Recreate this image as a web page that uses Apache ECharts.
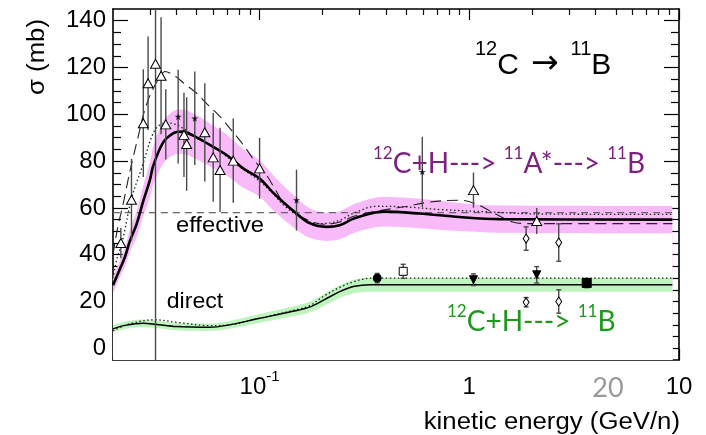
<!DOCTYPE html>
<html>
<head>
<meta charset="utf-8">
<script src="https://cdn.jsdelivr.net/npm/echarts@6/dist/echarts.min.js"></script>
<style>
  html, body { margin: 0; padding: 0; background: #fff; }
  #chart { width: 706px; height: 435px; }
</style>
</head>
<body>
<div id="chart"></div>
<script>
// ---- axis ranges and ticks ----
const xMin = 0.02, xMax = 10;
const yMin = -5, yMax = 145;
const xMajorTicks = [0.1, 1, 10];
const xMajorLabels = ['10^-1', '1', '10'];
const xMinorTicks = [0.03, 0.04, 0.05, 0.06, 0.07, 0.08, 0.09,
                     0.2, 0.3, 0.4, 0.5, 0.6, 0.7, 0.8, 0.9,
                     2, 3, 4, 5, 6, 7, 8, 9];
const yMajorTicks = [0, 20, 40, 60, 80, 100, 120, 140];
const yMinorTicks = [5, 10, 15, 25, 30, 35, 45, 50, 55, 65, 70, 75, 85, 90, 95,
                     105, 110, 115, 125, 130, 135];

// ---- effective cross section (12C+H -> 11A* -> 11B), mb ----
const effE    = [0.02, 0.0216, 0.0228, 0.0241, 0.0259, 0.0279, 0.03, 0.0311, 0.0347, 0.0387,
                 0.0425, 0.0483, 0.0579, 0.0696, 0.0835, 0.1, 0.116, 0.129, 0.15, 0.173,
                 0.208, 0.241, 0.279, 0.335, 0.387, 0.579, 0.898, 1.39, 9.3];
const effMid  = [27, 34, 39, 46, 53, 63, 72, 78, 88, 91.9,
                 92.6, 90.9, 86.9, 82.6, 76.9, 72.6, 66.5, 62.6, 57.6, 53.5,
                 51.9, 52.6, 55.3, 57.5, 58.4, 57.6, 56.1, 55.2, 55];
const effHalf = [3.5, 3.5, 4, 4.8, 5.5, 6.5, 7.5, 8, 9, 9.4,
                 9.5, 9.5, 9.2, 8.8, 8.3, 7.8, 7.5, 7.2, 6.8, 6.3,
                 6, 6, 6.1, 6.3, 6.4, 6.3, 6, 5.8, 5.8];

// dotted model, effective
const effDotE = [0.02, 0.0208, 0.0224, 0.0245, 0.0274, 0.0311, 0.0335, 0.0374, 0.0432, 0.0501,
                 0.0579, 0.0696, 0.0835, 0.1, 0.116, 0.129, 0.15, 0.173, 0.2006, 0.241,
                 0.279, 0.36, 0.501, 0.721, 1.248, 2.16, 9.3];
const effDot  = [30, 37.6, 47.6, 64, 77, 92, 95.5, 96.2, 94, 89.7,
                 87, 82, 76.5, 71.5, 66, 61.5, 57, 54, 53.3, 54.7,
                 57.6, 60.7, 60.4, 59.3, 58.3, 57.4, 57.2];

// long-dashed model, effective
const effDashE = [0.02, 0.0211, 0.0224, 0.0236, 0.025, 0.0263, 0.0279, 0.0294, 0.0311, 0.0335,
                  0.0354, 0.0387, 0.044, 0.0501, 0.0567, 0.0648, 0.0737, 0.0835, 0.0949, 0.1079,
                  0.1194, 0.129, 0.147, 0.173, 0.204, 0.241, 0.284, 0.354, 0.491, 0.646,
                  0.898, 1.079, 1.343, 1.611, 1.893, 9.3];
const effDash  = [40, 52, 62, 72, 82, 90, 99.7, 106, 111, 116,
                  118.3, 116.9, 113, 109, 104, 99, 93, 87, 80, 74,
                  67.5, 62.6, 58, 54.5, 53, 54, 56.5, 58.5, 60.5, 62.5,
                  63.3, 61.6, 57.3, 54, 53.3, 53.3];

// constant effective reference level
const effConstE = [0.02, 9.3];
const effConst  = [58, 58];

// ---- direct cross section (12C+H -> 11B), mb ----
const dirE    = [0.02, 0.0228, 0.0279, 0.0318, 0.0402, 0.0579, 0.0696, 0.1, 0.144, 0.173,
                 0.204, 0.241, 0.284, 0.335, 9.3];
const dirMid  = [8.3, 9.8, 10.7, 10.3, 9.3, 9.0, 9.8, 12.8, 15.8, 17.6,
                 20.8, 24.2, 26.5, 27.2, 27.2];
const dirHalf = [1.6, 1.6, 1.6, 1.6, 1.6, 1.6, 1.7, 1.9, 2.1, 2.3,
                 2.5, 2.7, 2.9, 3, 3];

const dirDotE = [0.02, 0.0241, 0.0318, 0.0402, 0.0579, 0.0696, 0.1, 0.144, 0.173, 0.204,
                 0.241, 0.284, 0.345, 9.3];
const dirDot  = [7.5, 10.5, 12.2, 11.1, 9.7, 9.9, 12.8, 16.2, 18.2, 22.5,
                 26, 28.6, 30, 30];

// ---- measurements: energy (GeV/n), sigma (mb), error (mb) ----
const triOpenE   = [0.0218, 0.0245, 0.0279, 0.0294, 0.0319, 0.0339, 0.0357, 0.0436, 0.0449, 0.0548,
                    0.0601, 0.0648, 0.0749, 0.100, 1.047, 2.097];
const triOpenS   = [45, 63.5, 96.2, 113.3, 121.6, 116.5, 95.7, 91.2, 87.3, 92.3,
                    81.6, 76.2, 80.2, 76.9, 67.6, 54.4];
const triOpenErr = [6.5, 17.5, 23, 20, 130, 25, 15, 18, 20, 21,
                    19, 18, 18, 13, 7.5, 5.6];

const starE   = [0.0409, 0.0491, 0.150, 0.597];
const starS   = [99, 98.3, 63.3, 75.4];
const starErr = [20, 20, 13, 15];

const diaE   = [1.866, 2.67, 1.866, 2.67];
const diaS   = [46.9, 45.2, 19.7, 20.0];
const diaErr = [5, 8, 2, 5];

const circE = [0.364], circS = [30.0], circErr = [2];
const sqOpenE = [0.484], sqOpenS = [32.9], sqOpenErr = [3];
const triDownE = [1.047, 2.097], triDownS = [29.3, 31.4], triDownErr = [2.5, 3.5];
const sqFillE = [3.63], sqFillS = [27.9], sqFillErr = [2];

// ---- helpers ----
const zip = (xs, ys) => xs.map((x, i) => [x, ys[i]]);
const zip3 = (xs, ys, es) => xs.map((x, i) => [x, ys[i], es[i]]);

const FONT = 'Liberation Sans, Arial, sans-serif';
const LABEL_FONT = 'Lato, sans-serif';
const PINK = '#F9BAF9';
const GREEN = '#BEF5BE';
const SMOOTH = 0.35;

function xAxisDef(position, ticks, len, withLabels) {
  return {
    type: 'log', logBase: 10, min: xMin, max: xMax, position: position,
    axisLine: { show: withLabels !== null, onZero: false, lineStyle: { color: '#000', width: 1.6 } },
    axisTick: { show: true, inside: true, length: len, customValues: ticks,
                lineStyle: { color: '#000', width: 1.2 } },
    axisLabel: withLabels ? {
      show: true, customValues: xMajorTicks, margin: 9,
      fontFamily: FONT, fontSize: 24, color: '#000',
      formatter: function (v) {
        let idx = 0, best = Infinity;
        xMajorTicks.forEach((t, i) => {
          const d = Math.abs(Math.log10(t) - Math.log10(v));
          if (d < best) { best = d; idx = i; }
        });
        const parts = xMajorLabels[idx].split('^');
        return parts.length > 1 ? '{a|' + parts[0] + '}{s|' + parts[1] + '}' : '{a|' + parts[0] + '}';
      },
      rich: {
        a: { fontFamily: FONT, fontSize: 24, color: '#000', lineHeight: 30, verticalAlign: 'bottom' },
        s: { fontFamily: FONT, fontSize: 15, color: '#000', lineHeight: 15, verticalAlign: 'top' }
      }
    } : { show: false },
    splitLine: { show: false }, minorTick: { show: false }, minorSplitLine: { show: false }
  };
}

function yAxisDef(position, ticks, len, withLabels, showLine) {
  return {
    type: 'value', min: yMin, max: yMax, position: position,
    axisLine: { show: showLine, onZero: false, lineStyle: { color: '#000', width: 1.6 } },
    axisTick: { show: true, inside: true, length: len, customValues: ticks,
                lineStyle: { color: '#000', width: 1.2 } },
    axisLabel: withLabels ? {
      show: true, customValues: yMajorTicks, margin: 7,
      fontFamily: FONT, fontSize: 24, color: '#000'
    } : { show: false },
    splitLine: { show: false }, minorTick: { show: false }, minorSplitLine: { show: false }
  };
}

function curve(name, xs, ys, style, z) {
  return {
    name: name, type: 'line', data: zip(xs, ys), smooth: SMOOTH, symbol: 'none',
    lineStyle: style, z: z || 3, silent: true
  };
}

// Uncertainty band: the upper edge is filled down to the axis floor with the
// band colour, then the lower edge is filled down with the background colour.
function band(xs, mid, half, color, z) {
  return [
    { type: 'line', symbol: 'none', smooth: SMOOTH, silent: true, z: z,
      data: xs.map((x, i) => [x, mid[i] + half[i]]),
      lineStyle: { opacity: 0 }, areaStyle: { color: color, opacity: 1, origin: 'start' } },
    { type: 'line', symbol: 'none', smooth: SMOOTH, silent: true, z: z,
      data: xs.map((x, i) => [x, mid[i] - half[i]]),
      lineStyle: { opacity: 0 }, areaStyle: { color: '#fff', opacity: 1, origin: 'start' } }
  ];
}

function errorBars(xs, ys, es, cap) {
  return {
    type: 'custom', clip: true, silent: true, z: 5,
    data: zip3(xs, ys, es),
    encode: { x: 0, y: 1 },
    renderItem: function (params, api) {
      const x = api.value(0), y = api.value(1), e = api.value(2);
      const hi = api.coord([x, y + e]);
      const lo = api.coord([x, y - e]);
      const st = { stroke: '#4a4a4a', lineWidth: 1.4 };
      const kids = [{ type: 'line', shape: { x1: hi[0], y1: hi[1], x2: lo[0], y2: lo[1] }, style: st }];
      if (cap) {
        kids.push({ type: 'line', shape: { x1: hi[0] - cap, y1: hi[1], x2: hi[0] + cap, y2: hi[1] }, style: st });
        kids.push({ type: 'line', shape: { x1: lo[0] - cap, y1: lo[1], x2: lo[0] + cap, y2: lo[1] }, style: st });
      }
      return { type: 'group', children: kids };
    }
  };
}

function markers(xs, ys, symbol, size, fill, extra) {
  return Object.assign({
    type: 'scatter', data: zip(xs, ys), symbol: symbol, symbolSize: size, silent: true, z: 6,
    itemStyle: { color: fill, borderColor: '#000', borderWidth: 1, opacity: 1 }
  }, extra || {});
}

const STAR = 'path://M50,0 L61,35 L98,35 L68,57 L79,91 L50,70 L21,91 L32,57 L2,35 L39,35 Z';

const series = [].concat(
  band(effE, effMid, effHalf, PINK, 1),
  band(dirE, dirMid, dirHalf, GREEN, 1),
  [
    curve('effective level', effConstE, effConst, { color: '#666', width: 1.4, type: [7, 5] }, 2),
    curve('effective, long dash', effDashE, effDash, { color: '#222', width: 1.1, type: [11, 6] }),
    curve('effective, dotted', effDotE, effDot, { color: '#222', width: 1.3, type: [1.5, 2.5] }),
    curve('effective', effE, effMid, { color: '#000', width: 2.6 }, 4),
    curve('direct, dotted', dirDotE, dirDot, { color: '#222', width: 1.3, type: [1.5, 2.5] }),
    curve('direct', dirE, dirMid, { color: '#000', width: 1.5 }, 4),
    errorBars(triOpenE, triOpenS, triOpenErr, 0),
    errorBars(starE, starS, starErr, 0),
    errorBars(diaE, diaS, diaErr, 2.5),
    errorBars(circE, circS, circErr, 2.5),
    errorBars(sqOpenE, sqOpenS, sqOpenErr, 2.5),
    errorBars(triDownE, triDownS, triDownErr, 2.5),
    errorBars(sqFillE, sqFillS, sqFillErr, 2.5),
    markers(triOpenE, triOpenS, 'triangle', [10, 9], '#fff'),
    markers(starE, starS, STAR, 7, '#000', { itemStyle: { color: '#000', borderWidth: 0 } }),
    markers(diaE, diaS, 'diamond', [6, 9], '#fff'),
    markers(circE, circS, 'circle', 8, '#000'),
    markers(sqOpenE, sqOpenS, 'rect', 8, '#fff'),
    markers(triDownE, triDownS, 'triangle', 8, '#000', { symbolRotate: 180 }),
    markers(sqFillE, sqFillS, 'rect', 9, '#000')
  ]
);

function reactionLabel(x, y, text, color) {
  return {
    type: 'text', x: x, y: y, z: 10,
    style: {
      text: text, align: 'left', verticalAlign: 'top',
      rich: {
        s: { fontFamily: LABEL_FONT, fontSize: 17, fill: color, lineHeight: 17, verticalAlign: 'top' },
        b: { fontFamily: LABEL_FONT, fontSize: 28, fill: color, lineHeight: 33, verticalAlign: 'bottom' }
      }
    }
  };
}

const chart = echarts.init(document.getElementById('chart'), null, { renderer: 'canvas' });
chart.setOption({
  animation: false,
  backgroundColor: '#fff',
  grid: { left: 113, top: 9, width: 566, height: 351, containLabel: false },
  xAxis: [
    xAxisDef('bottom', xMajorTicks, 11, true),
    xAxisDef('bottom', xMinorTicks, 6, null),
    xAxisDef('top', xMajorTicks, 11, false),
    xAxisDef('top', xMinorTicks, 6, null)
  ],
  yAxis: [
    yAxisDef('left', yMajorTicks, 15, true, true),
    yAxisDef('left', yMinorTicks, 8, false, false),
    yAxisDef('right', yMajorTicks, 15, false, true),
    yAxisDef('right', yMinorTicks, 8, false, false)
  ],
  series: series,
  graphic: [
    { type: 'text', x: 38, y: 57, rotation: Math.PI / 2, scaleX: 1.12, z: 10,
      style: { text: 'σ (mb)', fontFamily: FONT, fontSize: 23, fill: '#000', align: 'center', verticalAlign: 'middle' } },
    { type: 'text', x: 680, y: 423, scaleX: 1.12, z: 10,
      style: { text: 'kinetic energy (GeV/n)', fontFamily: FONT, fontSize: 23, fill: '#000', align: 'right', verticalAlign: 'middle' } },
    { type: 'text', x: 220, y: 226, scaleX: 1.08, z: 10,
      style: { text: 'effective', fontFamily: FONT, fontSize: 22, fill: '#000', align: 'center', verticalAlign: 'middle' } },
    { type: 'text', x: 195, y: 302, scaleX: 1.05, z: 10,
      style: { text: 'direct', fontFamily: FONT, fontSize: 22, fill: '#000', align: 'center', verticalAlign: 'middle' } },
    { type: 'text', x: 608, y: 388, z: 10,
      style: { text: '20', fontFamily: LABEL_FONT, fontSize: 27, fill: '#999', align: 'center', verticalAlign: 'middle' } },
    { type: 'text', x: 475, y: 39, z: 10,
      style: {
        text: '{s|12}{b|C}{r|→}{s|11}{b|B}', align: 'left', verticalAlign: 'top',
        rich: {
          s: { fontFamily: FONT, fontSize: 20, fill: '#000', lineHeight: 20, verticalAlign: 'top' },
          b: { fontFamily: FONT, fontSize: 30, fill: '#000', lineHeight: 42, verticalAlign: 'bottom' },
          r: { fontFamily: 'DejaVu Sans, sans-serif', fontSize: 33, fill: '#000', lineHeight: 42,
               verticalAlign: 'bottom', padding: [0, 12, 0, 12] }
        }
      } },
    reactionLabel(373, 145, '{s|12}{b|C+H---> }{s|11}{b|A*---> }{s|11}{b|B}', '#7E217F'),
    reactionLabel(447, 303, '{s|12}{b|C+H---> }{s|11}{b|B}', '#1C9A1C')
  ]
});
</script>
</body>
</html>
